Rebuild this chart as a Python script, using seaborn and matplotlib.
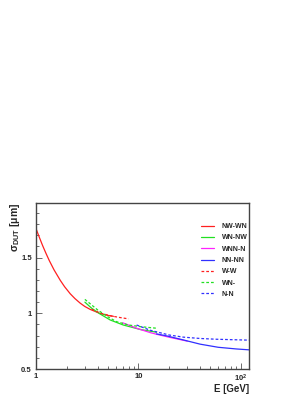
import numpy as np
import pandas as pd
import matplotlib
matplotlib.use('Agg')
import matplotlib.pyplot as plt
import matplotlib.ticker as mticker
import seaborn as sns

# curves
e_nwwn = [1.0, 1.08, 1.16, 1.25, 1.35, 1.5, 1.725, 1.9, 2.16, 2.4, 2.7, 3.0, 3.38, 4.23, 5.1, 5.7]
s_nwwn = [1.76, 1.68, 1.608, 1.539, 1.472, 1.39, 1.296, 1.239, 1.175, 1.132, 1.091, 1.061,
          1.035, 0.998, 0.98, 0.973]

e_wnnw = [3.0, 3.5, 4.2, 5.3, 7.1, 10.4, 15.0]
s_wnnw = [1.10, 1.045, 0.995, 0.94, 0.895, 0.855, 0.83]

e_wnnn = [7.0, 10.0, 13.0, 15.0, 20.0, 30.0]
s_wnnn = [0.915, 0.86, 0.827, 0.812, 0.785, 0.75]

e_nnnn = [15.0, 18.9, 27.4, 40.0, 60.0, 90.0, 120.0]
s_nnnn = [0.815, 0.797, 0.761, 0.723, 0.695, 0.68, 0.672]

e_ww = [3.5, 4.3, 5.5, 6.5, 8.0]
s_ww = [1.035, 1.0, 0.975, 0.963, 0.95]

e_wn = [3.0, 4.0, 5.0, 6.1, 8.0, 10.5, 15.0]
s_wn = [1.125, 1.03, 0.97, 0.925, 0.895, 0.88, 0.866]

e_nn = [9.6, 13.0, 20.0, 27.4, 40.0, 58.0, 120.0]
s_nn = [0.895, 0.848, 0.805, 0.786, 0.774, 0.767, 0.759]

series = [
    ('NW-WN', e_nwwn, s_nwwn, '#ff2020', '-'),
    ('WN-NW', e_wnnw, s_wnnw, '#22e022', '-'),
    ('WNN-N', e_wnnn, s_wnnn, '#ff22ff', '-'),
    ('NN-NN', e_nnnn, s_nnnn, '#3030ff', '-'),
    ('W-W', e_ww, s_ww, '#ff2020', '--'),
    ('WN-', e_wn, s_wn, '#22e022', '--'),
    ('N-N', e_nn, s_nn, '#3030ff', '--'),
]

sns.set_style('white')
plt.rcParams['font.family'] = ['Liberation Sans', 'DejaVu Sans']
plt.rcParams['mathtext.fontset'] = 'custom'
plt.rcParams['mathtext.rm'] = 'Liberation Sans:bold'
plt.rcParams['mathtext.it'] = 'Liberation Sans:bold'
plt.rcParams['mathtext.bf'] = 'Liberation Sans:bold'

fig = plt.figure(figsize=(3.08, 3.98), dpi=100)
ax = fig.add_axes([36/308, 29/398, 213/308, 166/398])

for name, e, s, col, ls in series:
    df = pd.DataFrame({'E': e, 'sigma': s})
    sns.lineplot(data=df, x='E', y='sigma', ax=ax, color=col,
                 linewidth=0.9, label=name)
    if ls == '--':
        ax.lines[-1].set_dashes((2.2, 1.6))

ax.set_xscale('log')
ax.set_xlim(1, 120)
ax.set_ylim(0.5, 1.99)

ax.yaxis.set_major_locator(mticker.FixedLocator([0.5, 1.0, 1.5]))
ax.yaxis.set_major_formatter(mticker.FixedFormatter(['0.5', '1', '1.5']))
ax.yaxis.set_minor_locator(mticker.MultipleLocator(0.1))
ax.xaxis.set_major_locator(mticker.FixedLocator([1, 10, 100]))
ax.xaxis.set_major_formatter(mticker.FixedFormatter(['1', '10', r'$10^{2}$']))
ax.xaxis.set_minor_locator(mticker.LogLocator(base=10, subs=np.arange(2, 10)))
ax.xaxis.set_minor_formatter(mticker.NullFormatter())

ax.tick_params(which='both', direction='in', color='#555555', width=0.6,
               labelsize=5.5, pad=3, left=True, bottom=True, top=False, right=False)
ax.tick_params(which='major', length=4)
ax.tick_params(which='minor', length=2)
for lab in ax.get_xticklabels() + ax.get_yticklabels():
    lab.set_fontweight('bold')

for sp in ax.spines.values():
    sp.set_color('#444444')
    sp.set_linewidth(1.0)

ax.set_xlabel('E [GeV]', fontsize=7, fontweight='bold', ha='right')
ax.xaxis.set_label_coords(1.0, -0.09)
ax.set_ylabel(r'$\sigma_{DUT}$ [$\mu$m]', fontsize=7.5, fontweight='bold', ha='right')
ax.yaxis.set_label_coords(-0.065, 1.0)

leg = ax.legend(loc='upper left', bbox_to_anchor=(0.743, 0.917), frameon=False,
                fontsize=5, handlelength=1.9, handletextpad=1.15, labelspacing=0.62)
for t in leg.get_texts():
    t.set_fontweight('bold')

fig.savefig('out.png', dpi=100, facecolor='white')
